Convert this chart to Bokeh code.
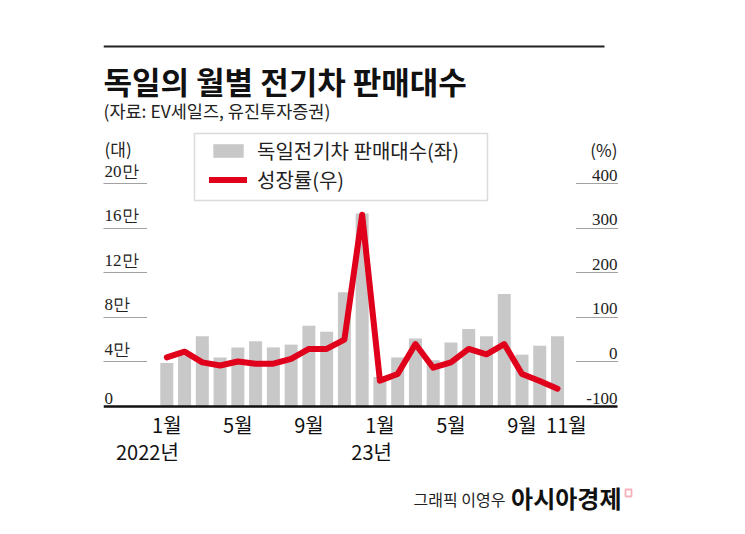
from bokeh.plotting import figure
from bokeh.models import (Range1d, LinearAxis, FixedTicker, Label, LabelSet,
                          ColumnDataSource, Legend, LegendItem, BoxAnnotation)
from bokeh.embed import file_html
from bokeh.resources import INLINE

# ---- data ----
months = ["1월", "2월", "3월", "4월", "5월", "6월", "7월", "8월", "9월", "10월", "11월", "12월",
          "1월", "2월", "3월", "4월", "5월", "6월", "7월", "8월", "9월", "10월", "11월"]
sales = [39000, 46000, 63000, 44000, 53000, 58500, 53000, 55500, 72500, 67000, 102500, 173000,
         26500, 44000, 61000, 41500, 57500, 69500, 63000, 101000, 46500, 54500, 63000]
growth = [10, 23, -1, -8, 1, -4, -4, 7, 29, 29, 50, 330,
          -42, -27, 40, -13, -1, 29, 17, 40, -27, -43, -60]
left_ticks = [0, 40000, 80000, 120000, 160000, 200000]
left_tick_labels = ["0", "4만", "8만", "12만", "16만", "20만"]
right_ticks = [-100, 0, 100, 200, 300, 400]
right_tick_labels = ["-100", "0", "100", "200", "300", "400"]
xtick_idx = [0, 4, 8, 12, 16, 20, 22]
year_idx = [0, 12]
year_labels = ["2022년", "23년"]

FONT = "Noto Sans CJK KR"
W, H = 745, 534
FL, FT = 103, 45            # frame left / top (px); frame runs to the right and bottom edges
BASE = 406                  # px of the zero baseline
RIGHT_AX = 617              # px of right axis
PITCH = 17.76               # px per month
FIRST = 166.3               # px center of first bar
PX200K = 223.0              # px for 200k (left) / 500 %p (right)

x0 = -(FIRST - FL) / PITCH
x1 = x0 + (W - FL) / PITCH
x_right = x0 + (RIGHT_AX - FL) / PITCH
yL0 = -200000 * (H - BASE) / PX200K
yL1 = 200000 * (BASE - FT) / PX200K
yR0 = -100 - 500 * (H - BASE) / PX200K
yR1 = -100 + 500 * (BASE - FT) / PX200K

idx = list(range(len(sales)))
src = ColumnDataSource(dict(x=idx, sales=sales, growth=growth))

p = figure(width=W, height=H, x_range=Range1d(x0, x1), y_range=Range1d(yL0, yL1),
           output_backend="svg", toolbar_location=None,
           min_border_left=FL, min_border_right=0,
           min_border_top=FT, min_border_bottom=0)
p.extra_y_ranges = {"pct": Range1d(yR0, yR1)}
p.outline_line_color = None
p.grid.visible = False
p.background_fill_color = "white"
p.border_fill_color = "white"
p.yaxis.visible = False

# x axis, pinned at the zero baseline
xa = p.xaxis[0]
xa.fixed_location = 0
xa.bounds = (x0, x_right)
xa.ticker = FixedTicker(ticks=xtick_idx[:-1] + [22.5])
ov = {i: months[i] for i in xtick_idx[:-1]}
ov[22.5] = months[22]
xa.major_label_overrides = ov
xa.axis_line_color = "#111111"
xa.axis_line_width = 2.5
xa.major_tick_line_color = None
xa.minor_tick_line_color = None
xa.major_label_standoff = -3
xa.major_label_text_font = FONT
xa.major_label_text_font_size = "20px"
xa.major_label_text_color = "#111111"

# dotted tick marks via axes
la = LinearAxis(ticker=FixedTicker(ticks=left_ticks[1:]), fixed_location=x0,
                major_label_overrides={t: "" for t in left_ticks},
                axis_line_color=None, minor_tick_line_color=None,
                major_tick_in=44, major_tick_out=0,
                major_tick_line_color="#444444", major_tick_line_dash="1 1",
                major_tick_line_width=1, major_label_standoff=0,
                major_label_text_font_size="1px")
p.add_layout(la, "left")
ra = LinearAxis(y_range_name="pct", ticker=FixedTicker(ticks=right_ticks[1:]),
                fixed_location=x_right,
                major_label_overrides={t: "" for t in right_ticks},
                axis_line_color=None, minor_tick_line_color=None,
                major_tick_in=42, major_tick_out=0,
                major_tick_line_color="#444444", major_tick_line_dash="1 1",
                major_tick_line_width=1, major_label_standoff=0,
                major_label_text_font_size="1px")
p.add_layout(ra, "right")

# bars and line
bars = p.vbar(x="x", top="sales", width=13 / PITCH, source=src,
              fill_color="#c8c8c8", line_color=None)
ln = p.line(x="x", y="growth", source=src, y_range_name="pct",
            line_color="#e0001b", line_width=6, line_join="round", line_cap="round")

# tick labels
lsrc = ColumnDataSource(dict(y=left_ticks, t=left_tick_labels))
p.add_layout(LabelSet(x=1, y="y", text="t", source=lsrc, x_units="screen",
                      text_align="left", text_baseline="bottom", y_offset=3,
                      text_font=FONT, text_font_size="17px", text_color="#222222"))
rsrc = ColumnDataSource(dict(y=right_ticks, t=right_tick_labels))
p.add_layout(LabelSet(x=RIGHT_AX - FL, y="y", text="t", source=rsrc, x_units="screen",
                      y_range_name="pct",
                      text_align="right", text_baseline="bottom", y_offset=3,
                      text_font=FONT, text_font_size="17px", text_color="#222222"))

def lab(text, px, py, size, align="left", bold=False, color="#111111", baseline="middle"):
    p.add_layout(Label(x=px - FL, y=H - py, x_units="screen", y_units="screen",
                       text=text, text_font=FONT, text_font_size=size,
                       text_font_style="bold" if bold else "normal",
                       text_align=align, text_baseline=baseline, text_color=color))

def box(l, r, t, b, **kw):
    p.add_layout(BoxAnnotation(left=l - FL, right=r - FL, top=H - t, bottom=H - b,
                               left_units="screen", right_units="screen",
                               top_units="screen", bottom_units="screen", **kw))

# units
lab("(대)", 104, 148, "17px", color="#222222")
lab("(%)", 617, 149, "17px", align="right", color="#222222")

# title block
box(103, 604, 44, 47, fill_color="#222222", fill_alpha=1, line_color=None)
lab("독일의 월별 전기차 판매대수", 103, 80, "31px", bold=True)
lab("(자료: EV세일즈, 유진투자증권)", 103, 110, "17.5px", color="#222222")

# year labels
for i, t in zip(year_idx, year_labels):
    p.add_layout(Label(x=i, y=H - 451, y_units="screen", x_offset=12, text=t,
                       text_font=FONT, text_font_size="20px", text_color="#111111",
                       text_align="right", text_baseline="middle"))

# credit
lab("그래픽 이영우", 505, 498, "16px", align="right", color="#222222")
lab("아시아경제", 621, 497, "24px", align="right", bold=True, color="#111111")
box(625, 631, 489, 496, fill_alpha=0, line_color="#e0001b", line_width=1.8)

# legend frame + legend
box(194, 487, 133, 200, fill_color="white", fill_alpha=1,
    line_color="#888888", line_width=1.5)
legend = Legend(items=[LegendItem(label="독일전기차 판매대수(좌)", renderers=[bars]),
                       LegendItem(label="성장률(우)", renderers=[ln])],
                location=(209 - FL, H - 194), orientation="vertical",
                glyph_width=38, glyph_height=17, label_standoff=10,
                label_text_font=FONT, label_text_font_size="20px",
                label_text_color="#222222", padding=0, spacing=0, margin=0,
                border_line_color=None, background_fill_alpha=0)
p.add_layout(legend)

open("out.html", "w").write(file_html(p, INLINE))
